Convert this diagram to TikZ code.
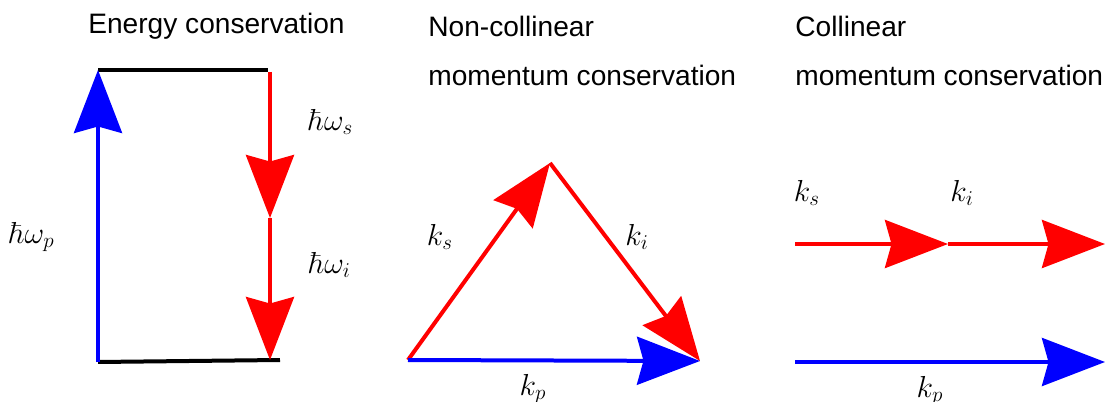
\documentclass[tikz,border=0pt]{standalone}
\usepackage{fontspec}
\newfontfamily\titlefont{Liberation Sans}
\usetikzlibrary{arrows.meta}
\definecolor{Rojo}{HTML}{FF0000}
\definecolor{Azul}{HTML}{0000FF}

\begin{document}
\begin{tikzpicture}[x=0.02cm,y=-0.02cm,
        nivel/.style={draw=black,line width=0.08cm},
        haz/.style={-{Stealth[length=1.26cm,width=0.96cm,inset=0.13cm]},line width=0.08cm},
        titulo/.style={anchor=base west,inner sep=0pt,font=\titlefont\fontsize{16}{19}\selectfont},
        etiqueta/.style={inner sep=0pt,font=\fontsize{16.5}{20}\selectfont}]
        \useasboundingbox (0,0) rectangle (1117,402);
        % energy conservation
        \node[titulo] (tEn) at (88,34) {Energy conservation};
        \coordinate (arr1) at (98,70);
        \coordinate (arr2) at (268,70);
        \coordinate (aba1) at (98,362);
        \coordinate (aba2) at (280,360);
        \coordinate (s0) at (270,72);
        \coordinate (s1) at (270,218);
        \coordinate (s2) at (270,360);
        \draw[nivel] (arr1) -- (arr2);
        \draw[nivel] (aba1) -- (aba2);
        \draw[haz,Azul] (aba1) -- (arr1);
        \draw[haz,Rojo] (s0) -- (s1);
        \draw[haz,Rojo] (s1) -- (s2);
        \node[etiqueta] (wS) at (331,122) {$\hbar\omega_s$};
        \node[etiqueta] (wI) at (330,265) {$\hbar\omega_i$};
        \node[etiqueta] (wP) at (32,237) {$\hbar\omega_p$};
        % non-collinear
        \node[titulo] (tNc) at (428,37) {Non-collinear};
        \node[titulo] (tNm) at (428,86) {momentum conservation};
        \coordinate (o) at (408,360);
        \coordinate (v) at (550,163);
        \coordinate (f) at (700,361);
        \draw[haz,Rojo] (o) -- (v);
        \draw[haz,Rojo] (v) -- (f);
        \draw[haz,Azul] (o) -- (f);
        \node[etiqueta] (ks) at (440,237) {$k_s$};
        \node[etiqueta] (ki) at (637,237) {$k_i$};
        \node[etiqueta] (kp) at (533,389) {$k_p$};
        % collinear
        \node[titulo] (tCo) at (795,37) {Collinear};
        \node[titulo] (tCm) at (795,86) {momentum conservation};
        \coordinate (r0) at (795,244);
        \coordinate (r1) at (948,244);
        \coordinate (r2) at (1105,244);
        \coordinate (b0) at (795,362);
        \coordinate (b1) at (1105,362);
        \draw[haz,Rojo] (r0) -- (r1);
        \draw[haz,Rojo] (r1) -- (r2);
        \draw[haz,Azul] (b0) -- (b1);
        \node[etiqueta] (ks2) at (807,193) {$k_s$};
        \node[etiqueta] (ki2) at (962,193) {$k_i$};
        \node[etiqueta] (kp2) at (930,391) {$k_p$};
      \end{tikzpicture}
\end{document}
